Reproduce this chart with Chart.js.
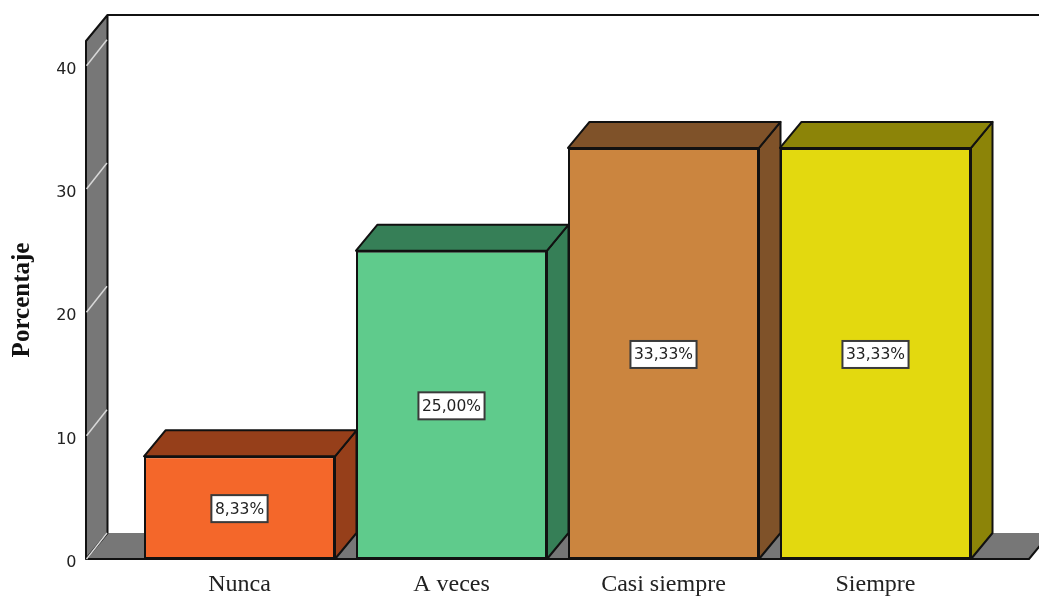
<!DOCTYPE html>
<html>
<head>
<meta charset="utf-8">
<style>
  html, body { margin: 0; padding: 0; background: #fff; overflow: hidden; }
  canvas { display: block; }
</style>
<script src="https://cdn.jsdelivr.net/npm/chart.js@4/dist/chart.umd.min.js"></script>
</head>
<body>
<canvas id="chart" width="1039" height="596"></canvas>
<script>
const categories = ['Nunca', 'A veces', 'Casi siempre', 'Siempre'];
const percentages = [8.33, 25.00, 33.33, 33.33];
const axis_max = 42;
const y_step = 10;
const y_title = 'Porcentaje';

const front_colors = ['#F4672A', '#5FCB8C', '#CB853F', '#E3D90F'];
const side_colors = ['#963F1A', '#367F57', '#7F5229', '#8C8408'];
const wall_color = '#777777';
const line_color = '#111111';
const depth_x = 21.5;
const depth_y = 26;
const floor_left = 86;
const floor_right = 1029;

function polygon(ctx, points, fill) {
  ctx.beginPath();
  points.forEach((p, i) => i ? ctx.lineTo(p[0], p[1]) : ctx.moveTo(p[0], p[1]));
  ctx.closePath();
  ctx.fillStyle = fill;
  ctx.fill();
  ctx.stroke();
}

// walls and the 3D faces of the bars
const box_plugin = {
  id: 'box',
  beforeDatasetsDraw(chart) {
    const ctx = chart.ctx;
    const y = chart.scales.y;
    const top = y.getPixelForValue(axis_max);
    const bottom = y.getPixelForValue(0);
    const back_left = floor_left + depth_x;

    ctx.save();
    ctx.lineWidth = 2;
    ctx.strokeStyle = line_color;
    ctx.lineJoin = 'round';

    // floor
    ctx.beginPath();
    ctx.moveTo(floor_left, bottom);
    ctx.lineTo(back_left, bottom - depth_y);
    ctx.lineTo(floor_right + depth_x, bottom - depth_y);
    ctx.lineTo(floor_right, bottom);
    ctx.closePath();
    ctx.fillStyle = wall_color;
    ctx.fill();
    ctx.beginPath();
    ctx.moveTo(floor_left, bottom);
    ctx.lineTo(floor_right, bottom);
    ctx.lineTo(floor_right + depth_x, bottom - depth_y);
    ctx.stroke();

    // left wall
    polygon(ctx, [
      [floor_left, bottom],
      [floor_left, top],
      [back_left, top - depth_y],
      [back_left, bottom - depth_y]
    ], wall_color);

    // back wall top edge
    ctx.beginPath();
    ctx.moveTo(back_left, top - depth_y);
    ctx.lineTo(chart.width, top - depth_y);
    ctx.stroke();

    // grid lines on the wall
    ctx.strokeStyle = '#d8d8d8';
    ctx.lineWidth = 1.5;
    y.ticks.forEach(t => {
      const py = y.getPixelForValue(t.value);
      ctx.beginPath();
      ctx.moveTo(floor_left + 0.5, py);
      ctx.lineTo(back_left - 0.5, py - depth_y);
      ctx.stroke();
    });

    // bar faces
    ctx.strokeStyle = line_color;
    ctx.lineWidth = 2;
    chart.getDatasetMeta(0).data.forEach((bar, i) => {
      const l = bar.x - bar.width / 2;
      const r = bar.x + bar.width / 2;
      polygon(ctx, [
        [r, bar.y],
        [r + depth_x, bar.y - depth_y],
        [r + depth_x, bar.base - depth_y],
        [r, bar.base]
      ], side_colors[i]);
      polygon(ctx, [
        [l, bar.y],
        [l + depth_x, bar.y - depth_y],
        [r + depth_x, bar.y - depth_y],
        [r, bar.y]
      ], side_colors[i]);
    });
    ctx.restore();
  },
  afterDatasetsDraw(chart) {
    const ctx = chart.ctx;
    ctx.save();
    ctx.font = '15.5px "DejaVu Sans"';
    ctx.textAlign = 'center';
    ctx.textBaseline = 'middle';
    chart.getDatasetMeta(0).data.forEach((bar, i) => {
      const text = percentages[i].toFixed(2).replace('.', ',') + '%';
      const w = ctx.measureText(text).width + 7;
      const cy = (bar.y + bar.base) / 2 + 1;
      ctx.fillStyle = '#ffffff';
      ctx.strokeStyle = '#3a3a3a';
      ctx.lineWidth = 2;
      ctx.fillRect(bar.x - w / 2, cy - 13.5, w, 27);
      ctx.strokeRect(bar.x - w / 2, cy - 13.5, w, 27);
      ctx.fillStyle = '#222222';
      ctx.fillText(text, bar.x, cy + 1);
    });
    ctx.restore();
  }
};

// tick labels sit a little below their tick in the original
function shift_y_labels(scale) {
  if (scale.shifted) return;
  scale.shifted = true;
  const compute = scale._computeLabelItems;
  scale._computeLabelItems = function (area) {
    const items = compute.call(this, area);
    items.forEach(item => { item.options.translation[1] += 4; });
    return items;
  };
}

new Chart(document.getElementById('chart').getContext('2d'), {
  type: 'bar',
  data: {
    labels: categories,
    datasets: [{
      data: percentages,
      backgroundColor: front_colors,
      borderColor: line_color,
      borderWidth: 2,
      borderSkipped: false,
      barPercentage: 191 / 212,
      categoryPercentage: 1
    }]
  },
  options: {
    responsive: false,
    animation: false,
    layout: { padding: { top: 41, right: 57.5, bottom: 0, left: 0 } },
    plugins: {
      legend: { display: false },
      tooltip: { enabled: false }
    },
    scales: {
      x: {
        grid: { display: false, drawTicks: false },
        border: { display: false },
        afterFit: scale => {
          scale.height = 37;
          scale.paddingLeft = 0;
          scale.paddingRight = 0;
        },
        ticks: {
          autoSkip: false,
          maxRotation: 0,
          padding: 11,
          color: '#222222',
          font: { family: '"Liberation Serif"', size: 24 }
        }
      },
      y: {
        min: 0,
        max: axis_max,
        grid: { display: false, drawTicks: false },
        border: { display: false },
        afterFit: scale => {
          scale.width = 133.5;
          scale.paddingTop = 0;
          scale.paddingBottom = 0;
          shift_y_labels(scale);
        },
        title: {
          display: true,
          text: y_title,
          color: '#111111',
          font: { family: '"Liberation Serif"', size: 25, weight: 'bold' },
          padding: { top: 8, bottom: 0 }
        },
        ticks: {
          stepSize: y_step,
          includeBounds: false,
          padding: 57,
          color: '#222222',
          font: { family: '"DejaVu Sans"', size: 16 }
        }
      }
    }
  },
  plugins: [box_plugin]
});
</script>
</body>
</html>
